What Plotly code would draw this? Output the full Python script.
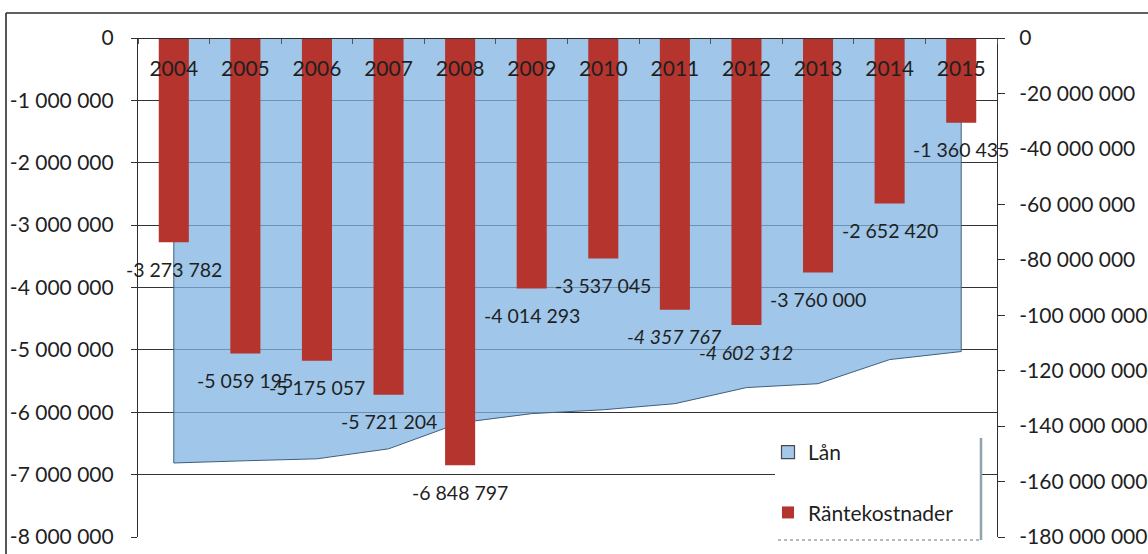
import plotly.graph_objects as go

# --- data -------------------------------------------------------------
years = ["2004", "2005", "2006", "2007", "2008", "2009",
         "2010", "2011", "2012", "2013", "2014", "2015"]

# interest costs (left axis, bars)
rantekostnader = [-3273782, -5059195, -5175057, -5721204, -6848797, -4014293,
                  -3537045, -4357767, -4602312, -3760000, -2652420, -1360435]

# outstanding loans (right axis, area)
lan = [-153300000, -152500000, -151800000, -148200000, -138800000, -135500000,
       -134100000, -131900000, -126100000, -124700000, -116000000, -113100000]

left_ticks = [0, -1000000, -2000000, -3000000, -4000000,
              -5000000, -6000000, -7000000, -8000000]
right_ticks = [0, -20000000, -40000000, -60000000, -80000000, -100000000,
               -120000000, -140000000, -160000000, -180000000]

italic_label_years = {"2011", "2012"}


def fmt(v):
    return f"{int(v):,}".replace(",", " ")


# --- geometry helpers ---------------------------------------------------
W, H = 1148, 554
ML, MR, MT, MB = 138, 151, 38, 17
PW, PH = W - ML - MR, H - MT - MB


def px_x(px):
    return (px - ML) / PW


def px_y(py):
    return (H - MB - py) / PH


FONT = "Lato"
TXT = "#1f1f1f"
BLUE_FILL = "rgba(128,180,226,0.75)"
BLUE_SWATCH = "#A3C8EC"
RED = "#B5342E"
AXIS = "#2f2f2f"

fig = go.Figure()

# loan area, closed against the zero line at the top
fig.add_trace(go.Scatter(
    x=[years[0]] + years + [years[-1]],
    y=[0] + lan + [0],
    mode="lines",
    fill="toself",
    fillcolor=BLUE_FILL,
    line=dict(color="#3d5f80", width=1),
    yaxis="y",
    showlegend=False,
    hoverinfo="skip",
))

# legend entry for the loan area
fig.add_trace(go.Scatter(
    x=[None], y=[None],
    mode="markers",
    name="Lån",
    legendgroup="lan",
    marker=dict(symbol="square", size=13, color=BLUE_SWATCH,
                line=dict(color="#4a4a4a", width=1.2)),
    yaxis="y",
))

fig.add_trace(go.Bar(
    x=years,
    y=rantekostnader,
    name="Räntekostnader",
    legendgroup="rk",
    marker=dict(color=RED, line=dict(width=0)),
    yaxis="y2",
))

# value labels under each bar end (x given as category index)
annotations = []
for i, (yr, v) in enumerate(zip(years, rantekostnader)):
    label = fmt(v)
    if yr in italic_label_years:
        label = f"<i>{label}</i>"
    annotations.append(dict(
        x=i, y=v, xref="x", yref="y2",
        text=label, showarrow=False,
        yshift=-27, yanchor="middle", xanchor="center",
        font=dict(family=FONT, size=19.5, color=TXT),
    ))

shapes = [
    # outer chart frame (top and left edges visible)
    dict(type="line", xref="paper", yref="paper",
         x0=px_x(6), x1=px_x(1160), y0=px_y(13), y1=px_y(13),
         line=dict(color="#2b2b2b", width=1.6)),
    dict(type="line", xref="paper", yref="paper",
         x0=px_x(6), x1=px_x(6), y0=px_y(13), y1=px_y(570),
         line=dict(color="#2b2b2b", width=1.6)),
    # legend box
    dict(type="rect", xref="paper", yref="paper", layer="above",
         x0=px_x(775), x1=px_x(980), y0=px_y(432), y1=px_y(540),
         fillcolor="white", line=dict(width=0)),
    dict(type="line", xref="paper", yref="paper", layer="above",
         x0=px_x(981), x1=px_x(981), y0=px_y(438), y1=px_y(540),
         line=dict(color="#8fa3ad", width=2.5)),
    dict(type="line", xref="paper", yref="paper", layer="above",
         x0=px_x(778), x1=px_x(981), y0=px_y(540), y1=px_y(540),
         line=dict(color="#9aa4aa", width=1.5, dash="dot")),
]

fig.update_layout(
    template="none",
    width=W, height=H,
    margin=dict(l=ML, r=MR, t=MT, b=MB, pad=0),
    paper_bgcolor="white",
    plot_bgcolor="white",
    font=dict(family=FONT, size=21, color=TXT),
    separators=", ",
    barmode="overlay",
    bargap=0.58,
    showlegend=True,
    legend=dict(
        x=px_x(768), y=px_y(432), xanchor="left", yanchor="top",
        bgcolor="rgba(0,0,0,0)", borderwidth=0,
        font=dict(family=FONT, size=21, color=TXT),
        tracegroupgap=30, traceorder="grouped",
    ),
    # category axis sits on the zero line at the top, labels hang below it
    xaxis=dict(
        type="category",
        range=[-0.5, len(years) - 0.5],
        anchor="free", position=1, side="bottom",
        showline=True, linecolor=AXIS, linewidth=1.2,
        ticks="outside", ticklen=5, tickcolor="#555555", tickwidth=1,
        tickson="boundaries",
        ticklabelstandoff=12,
        tickfont=dict(family=FONT, size=21, color=TXT),
        showgrid=False, zeroline=False,
        automargin=False,
    ),
    yaxis=dict(
        side="right", anchor="x",
        range=[right_ticks[-1], 0],
        tickmode="array", tickvals=right_ticks,
        ticktext=[fmt(v) for v in right_ticks],
        ticks="outside", ticklen=7, tickcolor=AXIS,
        showline=True, linecolor=AXIS, linewidth=1.2,
        showgrid=False, zeroline=False,
        tickfont=dict(family=FONT, size=21, color=TXT),
        ticklabelstandoff=10,
        automargin=False,
    ),
    yaxis2=dict(
        overlaying="y", side="left", anchor="x",
        range=[left_ticks[-1], 0],
        tickmode="array", tickvals=left_ticks,
        ticktext=[fmt(v) for v in left_ticks],
        ticks="outside", ticklen=6, tickcolor=AXIS,
        showline=True, linecolor=AXIS, linewidth=1.2,
        showgrid=True, gridcolor="#333333", gridwidth=1.2,
        zeroline=False,
        tickfont=dict(family=FONT, size=21, color=TXT),
        ticklabelstandoff=13,
        automargin=False,
    ),
    annotations=annotations,
    shapes=shapes,
)

fig.write_html("out.html")
